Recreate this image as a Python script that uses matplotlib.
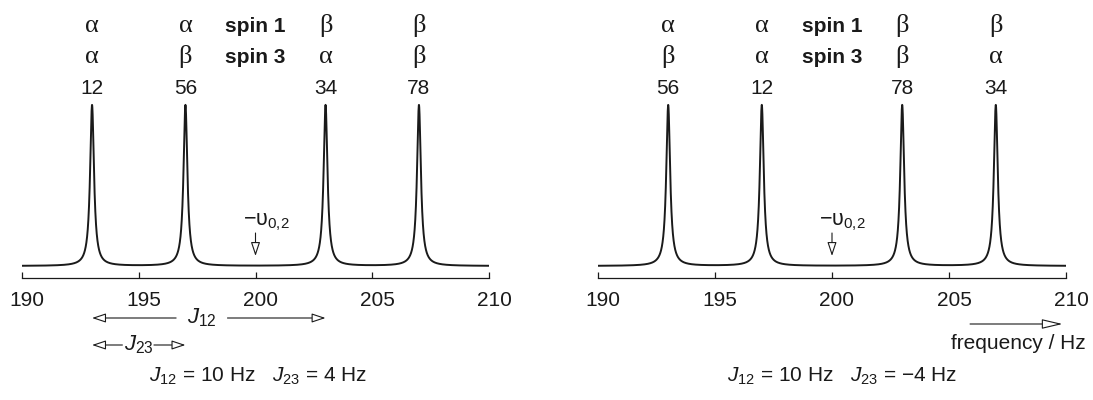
import numpy as np
import matplotlib
matplotlib.use("Agg")
import matplotlib.pyplot as plt
from matplotlib.transforms import ScaledTranslation

plt.rcParams['font.family'] = ['Liberation Sans', 'DejaVu Sans']
plt.rcParams['mathtext.fontset'] = 'custom'
plt.rcParams['mathtext.rm'] = 'Liberation Sans'
plt.rcParams['mathtext.it'] = 'Liberation Sans:italic'
plt.rcParams['mathtext.bf'] = 'Liberation Sans:bold'

# ---- data ----
peaks_left = [193, 197, 203, 207]
peaks_right = [193, 197, 203, 207]
spin1_left = ['α', 'α', 'β', 'β']
spin3_left = ['α', 'β', 'α', 'β']
num_left = ['12', '56', '34', '78']
spin1_right = ['α', 'α', 'β', 'β']
spin3_right = ['β', 'α', 'β', 'α']
num_right = ['56', '12', '78', '34']
linewidth_hz = 0.2
nu0 = 200
J12 = 10
J23_left = 4
J23_right = -4
xticks = [190, 195, 200, 205, 210]
xlim = (190, 210)

fig = plt.figure(figsize=(10.93, 4.0), dpi=100)
H = 400.0
axpos = [(22, 467), (598, 468)]
ax_bottom_px = 278
ax_h_px = 178
peak_px = 161
base_px = 12
ylo = -base_px / peak_px
yhi = (ax_h_px - base_px) / peak_px

def fy(py):
    # pixel row -> axes fraction
    return (ax_bottom_px - py) / ax_h_px

col = '#1a1a1a'
ahead = dict(arrowstyle='-|>,head_length=0.6,head_width=0.2', fc='white', ec=col,
             lw=0.8, mutation_scale=14, shrinkA=0, shrinkB=0)
abig = dict(arrowstyle='-|>,head_length=0.85,head_width=0.2', fc='white', ec=col,
            lw=0.8, mutation_scale=15, shrinkA=0, shrinkB=0)

def panel(x0, w, peaks, s1, s3, nums):
    ax = fig.add_axes([x0 / 1093, (H - ax_bottom_px) / H, w / 1093, ax_h_px / H])
    x = np.linspace(xlim[0], xlim[1], 8001)
    hw = linewidth_hz / 2
    y = np.zeros_like(x)
    for p in peaks:
        y += hw**2 / ((x - p)**2 + hw**2)
    ax.plot(x, y, color=col, lw=1.4, solid_capstyle='butt')
    ax.set_xlim(*xlim)
    ax.set_ylim(ylo, yhi)
    for s in ['top', 'right', 'left']:
        ax.spines[s].set_visible(False)
    ax.spines['bottom'].set_color(col)
    ax.spines['bottom'].set_linewidth(0.9)
    ax.set_yticks([])
    ax.set_xticks(xticks)
    ax.tick_params(axis='x', direction='in', length=4, width=0.9, color=col,
                   labelsize=15, pad=9, labelcolor=col)
    off = ScaledTranslation(5 / 100, 0, fig.dpi_scale_trans)
    for lab in ax.get_xticklabels():
        lab.set_transform(lab.get_transform() + off)
    tr = ax.get_xaxis_transform()
    for p, a, b, n in zip(peaks, s1, s3, nums):
        ax.text(p, fy(32), a, transform=tr, ha='center', va='baseline',
                fontsize=19, family=['Liberation Serif'], color=col)
        ax.text(p, fy(63), b, transform=tr, ha='center', va='baseline',
                fontsize=19, family=['Liberation Serif'], color=col)
        ax.text(p, fy(94), n, transform=tr, ha='center', va='baseline',
                fontsize=15, color=col)
    ax.text(nu0, fy(32), 'spin 1', transform=tr, ha='center', va='baseline',
            fontsize=15, fontweight='bold', color=col)
    ax.text(nu0, fy(63), 'spin 3', transform=tr, ha='center', va='baseline',
            fontsize=15, fontweight='bold', color=col)
    # -nu_0,2 marker
    ax.text(nu0 - 0.55, fy(225), r'$-\mathrm{υ}_{0{,}2}$', transform=tr, ha='left',
            va='baseline', fontsize=15.5, color=col)
    ax.annotate('', xy=(nu0, fy(256)), xytext=(nu0, fy(233)), xycoords=tr,
                textcoords=tr, arrowprops=ahead, annotation_clip=False)
    return ax, tr

axL, trL = panel(*axpos[0], peaks_left, spin1_left, spin3_left, num_left)
axR, trR = panel(*axpos[1], peaks_right, spin1_right, spin3_right, num_right)

# J12 arrow (left)
a0 = peaks_left[0]
a1 = a0 + J12
mid = (a0 + a1) / 2 - 0.3
axL.annotate('', xy=(a0, fy(318)), xytext=(mid - 1.1, fy(318)), xycoords=trL,
             textcoords=trL, arrowprops=ahead, annotation_clip=False)
axL.annotate('', xy=(a1, fy(318)), xytext=(mid + 1.1, fy(318)), xycoords=trL,
             textcoords=trL, arrowprops=ahead, annotation_clip=False)
axL.text(mid, fy(318), r'$\mathit{J}_{12}$', transform=trL, ha='center', va='center',
         fontsize=16, color=col)
# J23 arrow (left)
b1 = a0 + J23_left
mid2 = (a0 + b1) / 2
axL.annotate('', xy=(a0, fy(345)), xytext=(mid2 - 0.7, fy(345)), xycoords=trL,
             textcoords=trL, arrowprops=ahead, annotation_clip=False)
axL.annotate('', xy=(b1, fy(345)), xytext=(mid2 + 0.65, fy(345)), xycoords=trL,
             textcoords=trL, arrowprops=ahead, annotation_clip=False)
axL.text(mid2, fy(345), r'$\mathit{J}_{23}$', transform=trL, ha='center', va='center',
         fontsize=16, color=col)

# captions
axL.text(195.45, fy(382), r'$\mathit{J}_{12}$ = %d Hz   $\mathit{J}_{23}$ = %d Hz' % (J12, J23_left),
         transform=trL, ha='left', va='baseline', fontsize=15, color=col)
axR.text(195.5, fy(382), r'$\mathit{J}_{12}$ = %d Hz   $\mathit{J}_{23}$ = −%d Hz' % (J12, abs(J23_right)),
         transform=trR, ha='left', va='baseline', fontsize=15, color=col)

# frequency arrow (right)
axR.annotate('', xy=(209.85, fy(324)), xytext=(205.9, fy(324)), xycoords=trR,
             textcoords=trR, arrowprops=abig, annotation_clip=False)
axR.text(210.85, fy(349), 'frequency / Hz', transform=trR, ha='right', va='baseline',
         fontsize=15, color=col)

fig.savefig('out.png', dpi=100)
